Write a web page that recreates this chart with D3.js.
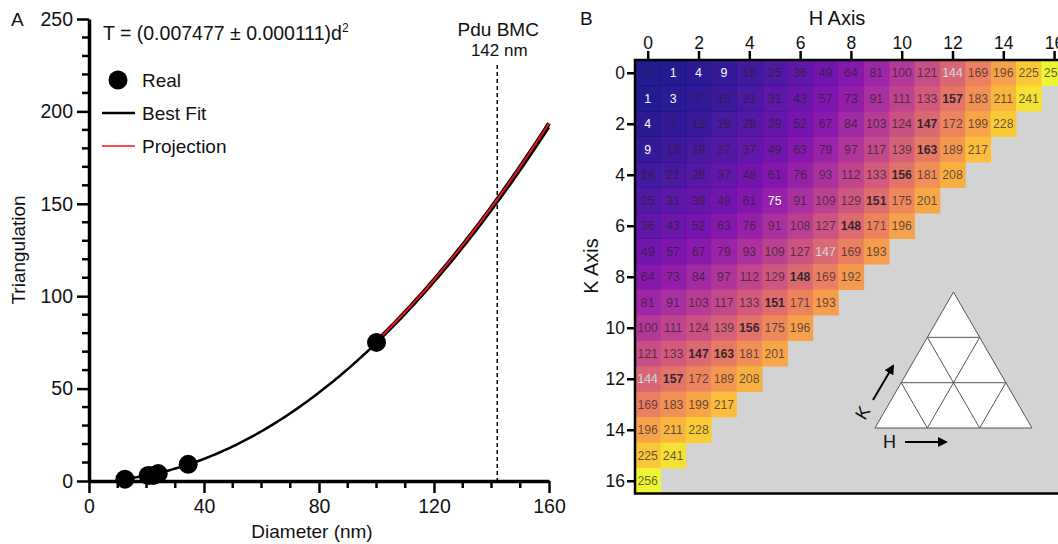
<!DOCTYPE html>
<html>
<head>
<meta charset="utf-8"/>
<script src="https://cdn.jsdelivr.net/npm/d3@7"></script>
<style>
  body { margin:0; background:#fff; }
  svg { font-family: "Liberation Sans", Arial, sans-serif; display:block; }
</style>
</head>
<body>
<div id="chart"></div>
<script>
// ---- panel A data ----
var diameters = [12.5, 20.6, 22.4, 24.1, 34.5, 100];
var triangulations = [1, 3, 3, 4, 9, 75];
var fitCoef = 0.007477;      // best fit  T = c*d^2
var projCoef = 0.00756;      // projection line
var fitRange = [11, 160];
var projRange = [100, 160];
var pduDiameter = 142;
var xTicks = [0, 40, 80, 120, 160];
var yTicks = [0, 50, 100, 150, 200, 250];

// ---- panel B data : rows are K, columns are H ----
var tRows = [
  [0,1,4,9,16,25,36,49,64,81,100,121,144,169,196,225,256],
  [1,3,7,13,21,31,43,57,73,91,111,133,157,183,211,241],
  [4,7,12,19,28,39,52,67,84,103,124,147,172,199,228],
  [9,13,19,27,37,49,63,79,97,117,139,163,189,217],
  [16,21,28,37,48,61,76,93,112,133,156,181,208],
  [25,31,39,49,61,75,91,109,129,151,175,201],
  [36,43,52,63,76,91,108,127,148,171,196],
  [49,57,67,79,93,109,127,147,169,193],
  [64,73,84,97,112,129,148,169,192],
  [81,91,103,117,133,151,171,193],
  [100,111,124,139,156,175,196],
  [121,133,147,163,181,201],
  [144,157,172,189,208],
  [169,183,199,217],
  [196,211,228],
  [225,241],
  [256]
];
var realT = [1, 3, 4, 9, 75];
var candidateT = [144, 147, 148, 151, 156, 157, 163];
var hkTicks = [0, 2, 4, 6, 8, 10, 12, 14, 16];

var W = 1058, H = 544;
var ink = "#111";
var svg = d3.select("#chart").append("svg").attr("width", W).attr("height", H);

// ================= Panel A =================
var x = d3.scaleLinear().domain([0, 160]).range([89, 549]);
var y = d3.scaleLinear().domain([0, 250]).range([481, 19]);
var gA = svg.append("g");

// minor ticks
var minorX = d3.range(10, 160, 10).filter(function(v){ return v % 40 != 0; });
var minorY = d3.range(10, 250, 10).filter(function(v){ return v % 50 != 0; });
gA.selectAll(".mx").data(minorX).enter().append("line")
  .attr("x1", x).attr("x2", x).attr("y1", y(0)).attr("y2", y(0) + 7)
  .attr("stroke", "#000").attr("stroke-width", 2.5);
gA.selectAll(".my").data(minorY).enter().append("line")
  .attr("y1", y).attr("y2", y).attr("x1", x(0)).attr("x2", x(0) - 7)
  .attr("stroke", "#000").attr("stroke-width", 2.5);

var xAxis = gA.append("g").attr("transform", "translate(0," + y(0) + ")")
  .call(d3.axisBottom(x).tickValues(xTicks).tickSize(12).tickSizeOuter(0).tickPadding(6));
var yAxis = gA.append("g").attr("transform", "translate(" + x(0) + ",0)")
  .call(d3.axisLeft(y).tickValues(yTicks).tickSize(12).tickSizeOuter(0).tickPadding(4));
[xAxis, yAxis].forEach(function(a){
  a.select(".domain").attr("stroke-width", 3.5);
  a.selectAll(".tick line").attr("stroke-width", 2.5);
  a.selectAll("text").attr("font-size", 19.5).attr("fill", ink).attr("font-family", "Liberation Sans, Arial, sans-serif");
});

gA.append("text").attr("x", 312).attr("y", 538).attr("text-anchor", "middle")
  .attr("font-size", 19).attr("fill", ink).text("Diameter (nm)");
gA.append("text").attr("transform", "translate(25," + y(125) + ") rotate(-90)")
  .attr("text-anchor", "middle").attr("font-size", 19).attr("fill", ink).text("Triangulation");
svg.append("text").attr("x", 11).attr("y", 26).attr("font-size", 19).attr("fill", ink).text("A");

// dashed Pdu line
gA.append("line").attr("x1", x(pduDiameter)).attr("x2", x(pduDiameter))
  .attr("y1", 65).attr("y2", y(0))
  .attr("stroke", "#000").attr("stroke-width", 1.5).attr("stroke-dasharray", "4,3");
gA.append("text").attr("x", x(pduDiameter) + 1).attr("y", 36).attr("text-anchor", "middle")
  .attr("font-size", 19).attr("fill", ink).text("Pdu BMC");
gA.append("text").attr("x", x(pduDiameter) + 2).attr("y", 56).attr("text-anchor", "middle")
  .attr("font-size", 17).attr("fill", ink).text("142 nm");

// curves
var line = d3.line().x(function(d){ return x(d[0]); }).y(function(d){ return y(d[1]); });
var fitPts = d3.range(fitRange[0], fitRange[1] + 0.5, 1).map(function(d){ return [d, fitCoef * d * d]; });
var projPts = d3.range(projRange[0], projRange[1] + 0.5, 1).map(function(d){ return [d, projCoef * d * d]; });
gA.append("path").datum(fitPts).attr("d", line).attr("fill", "none")
  .attr("stroke", "#000").attr("stroke-width", 2.5);
gA.append("path").datum(projPts).attr("d", line).attr("fill", "none")
  .attr("stroke", "#000").attr("stroke-width", 4);
gA.append("path").datum(projPts).attr("d", line).attr("fill", "none")
  .attr("stroke", "#e8161b").attr("stroke-width", 2);

// points
gA.selectAll(".pt").data(diameters).enter().append("circle")
  .attr("cx", function(d){ return x(d); })
  .attr("cy", function(d, i){ return y(triangulations[i]); })
  .attr("r", 9.5).attr("fill", "#000");

// equation + legend
var eq = gA.append("text").attr("x", 103).attr("y", 40).attr("font-size", 19.5).attr("fill", ink);
eq.append("tspan").text("T = (0.007477 \u00b1 0.000111)d");
eq.append("tspan").attr("font-size", 12).attr("dy", -8).text("2");
var legend = [
  {label: "Real", type: "dot"},
  {label: "Best Fit", type: "line", color: "#000", w: 2.5},
  {label: "Projection", type: "line", color: "#e8161b", w: 1.3}
];
legend.forEach(function(l, i){
  var ly = 80 + i * 33;
  if (l.type == "dot") {
    gA.append("circle").attr("cx", 118).attr("cy", ly).attr("r", 9.5).attr("fill", "#000");
  } else {
    gA.append("line").attr("x1", 102).attr("x2", 135).attr("y1", ly).attr("y2", ly)
      .attr("stroke", l.color).attr("stroke-width", l.w);
  }
  gA.append("text").attr("x", 142).attr("y", ly + 7).attr("font-size", 19).attr("fill", ink).text(l.label);
});

// ================= Panel B =================
var cellW = 25.4, cellH = 25.5, gx0 = 635, gy0 = 60;
var hx = d3.scaleLinear().domain([0, 17]).range([gx0, gx0 + 17 * cellW]);
var ky = d3.scaleLinear().domain([0, 17]).range([gy0, gy0 + 17 * cellH]);
var color = d3.scaleSequential(d3.interpolatePlasma).domain([0, 256]);
var gB = svg.append("g");

gB.append("rect").attr("x", hx(0)).attr("y", ky(0)).attr("width", hx(17) - hx(0)).attr("height", ky(17) - ky(0))
  .attr("fill", "#d3d3d3");

var cells = [];
tRows.forEach(function(row, k){
  row.forEach(function(v, h){ cells.push({h: h, k: k, v: v}); });
});

gB.selectAll(".cell").data(cells).enter().append("rect")
  .attr("x", function(d){ return hx(d.h); })
  .attr("y", function(d){ return ky(d.k); })
  .attr("width", cellW + 0.5).attr("height", cellH + 0.5)
  .attr("fill", function(d){ return color(d.v); })
  .attr("fill-opacity", 0.9);

function achiral(d){ return d.h == 0 || d.k == 0 || d.h == d.k; }
gB.selectAll(".lbl").data(cells).enter().append("text")
  .attr("x", function(d){ return hx(d.h + 0.5); })
  .attr("y", function(d){ return ky(d.k + 0.5) + 4.3; })
  .attr("text-anchor", "middle").attr("font-size", 12.3)
  .attr("font-weight", function(d){ return (candidateT.indexOf(d.v) >= 0 && !achiral(d)) ? "bold" : "normal"; })
  .attr("fill", function(d){
    if (achiral(d) && realT.indexOf(d.v) >= 0) return "#fff";
    if (achiral(d) && candidateT.indexOf(d.v) >= 0) return "#f6f6f6";
    return "#2a1f2a";
  })
  .attr("fill-opacity", function(d){
    if (achiral(d) && (realT.indexOf(d.v) >= 0 || candidateT.indexOf(d.v) >= 0)) return 1;
    return (candidateT.indexOf(d.v) >= 0) ? 0.95 : 0.72;
  })
  .attr("stroke", function(d){ return (achiral(d) && candidateT.indexOf(d.v) >= 0) ? "#888" : "none"; })
  .attr("stroke-width", 0.25)
  .text(function(d){ return d.v; });

// frame
gB.append("path")
  .attr("d", "M" + (hx(17) + 5) + "," + ky(0) + "H" + hx(0) + "V" + ky(17) + "H" + (hx(17) + 5))
  .attr("fill", "none").attr("stroke", "#000").attr("stroke-width", 2.5);

// axes
var topAxis = gB.append("g").attr("transform", "translate(0," + ky(0) + ")")
  .call(d3.axisTop(d3.scaleLinear().domain([-0.5, 16.5]).range([hx(0), hx(17)]))
    .tickValues(hkTicks).tickSize(9).tickSizeOuter(0).tickPadding(2));
var leftAxis = gB.append("g").attr("transform", "translate(" + hx(0) + ",0)")
  .call(d3.axisLeft(d3.scaleLinear().domain([-0.5, 16.5]).range([ky(0), ky(17)]))
    .tickValues(hkTicks).tickSize(8).tickSizeOuter(0).tickPadding(2));
[topAxis, leftAxis].forEach(function(a){
  a.select(".domain").remove();
  a.selectAll(".tick line").attr("stroke-width", 2.5);
  a.selectAll("text").attr("font-size", 17.5).attr("fill", ink).attr("font-family", "Liberation Sans, Arial, sans-serif");
});
gB.append("text").attr("x", 837).attr("y", 25).attr("text-anchor", "middle")
  .attr("font-size", 20).attr("fill", ink).text("H Axis");
gB.append("text").attr("transform", "translate(598,266) rotate(-90)")
  .attr("text-anchor", "middle").attr("font-size", 20).attr("fill", ink).text("K Axis");
svg.append("text").attr("x", 580).attr("y", 25).attr("font-size", 19).attr("fill", ink).text("B");

// inset lattice triangle
var tri = {x: 875, y: 428, side: 157};
var ins = gB.append("g").attr("transform", "translate(" + tri.x + "," + tri.y + ")");
function pt(a, b){ // a along H (to the right), b along K (up-right)
  var s = tri.side / 3;
  return [a * s + b * s / 2, -b * s * Math.sqrt(3) / 2];
}
ins.append("path").attr("d", "M" + pt(0,0) + "L" + pt(3,0) + "L" + pt(0,3) + "Z")
  .attr("fill", "#fff").attr("stroke", "#555").attr("stroke-width", 1);
var seg = [];
[1, 2].forEach(function(i){
  seg.push([pt(0, i), pt(3 - i, i)]);   // horizontal
  seg.push([pt(i, 0), pt(i, 3 - i)]);   // up-right
  seg.push([pt(i, 0), pt(0, i)]);       // up-left
});
ins.selectAll(".seg").data(seg).enter().append("line")
  .attr("x1", function(d){ return d[0][0]; }).attr("y1", function(d){ return d[0][1]; })
  .attr("x2", function(d){ return d[1][0]; }).attr("y2", function(d){ return d[1][1]; })
  .attr("stroke", "#555").attr("stroke-width", 1);

var defs = svg.append("defs");
defs.append("marker").attr("id", "ah").attr("viewBox", "0 0 10 10").attr("refX", 8).attr("refY", 5)
  .attr("markerWidth", 5).attr("markerHeight", 5).attr("orient", "auto")
  .append("path").attr("d", "M0,0L10,5L0,10Z").attr("fill", "#000");
ins.append("line").attr("x1", 30).attr("y1", 14).attr("x2", 71).attr("y2", 14)
  .attr("stroke", "#000").attr("stroke-width", 2).attr("marker-end", "url(#ah)");
ins.append("text").attr("x", 8).attr("y", 20).attr("font-size", 18).attr("fill", ink).text("H");
ins.append("line").attr("x1", -2).attr("y1", -28).attr("x2", 18).attr("y2", -62)
  .attr("stroke", "#000").attr("stroke-width", 2).attr("marker-end", "url(#ah)");
ins.append("text").attr("transform", "translate(-10,-7) rotate(-60)").attr("font-size", 18)
  .attr("fill", ink).text("K");
</script>
</body>
</html>
